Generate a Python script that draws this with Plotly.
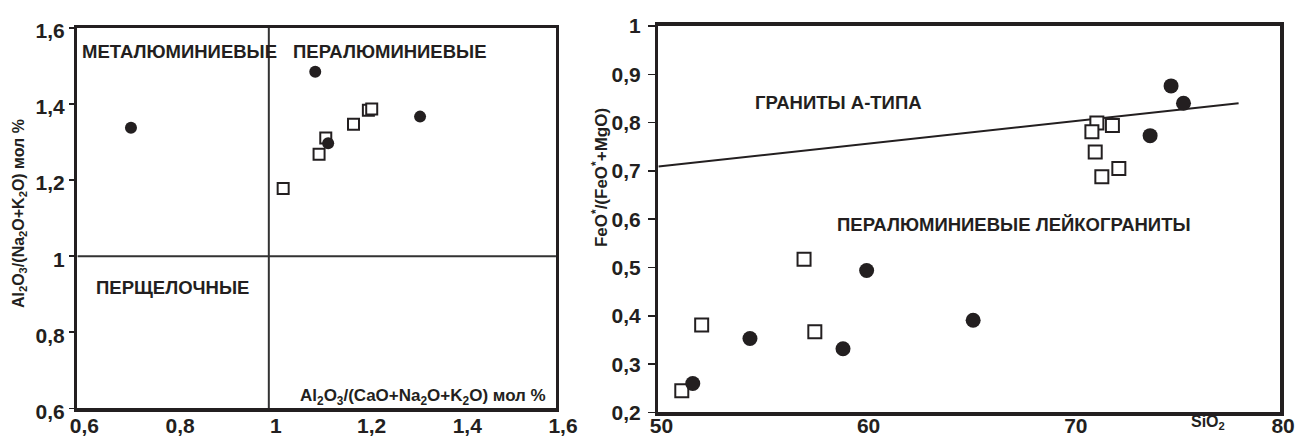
import plotly.graph_objects as go

# ---------------- data: left diagram ----------------
left_circle_x = [0.712, 1.097, 1.124, 1.316]
left_circle_y = [1.338, 1.485, 1.297, 1.367]
left_square_x = [1.030, 1.105, 1.119, 1.177, 1.208, 1.215]
left_square_y = [1.178, 1.268, 1.311, 1.347, 1.384, 1.387]
left_vline_x = [1.0, 1.0]
left_vline_y = [0.6, 1.6]
left_hline_x = [0.6, 1.6]
left_hline_y = [1.0, 1.0]
left_ticks = [0.6, 0.8, 1.0, 1.2, 1.4, 1.6]
left_ticktext = ["0,6", "0,8", "1", "1,2", "1,4", "1,6"]

# ---------------- data: right diagram ----------------
right_circle_x = [51.66, 54.42, 58.91, 60.05, 65.19, 73.73, 74.74, 75.34]
right_circle_y = [0.260, 0.353, 0.332, 0.494, 0.391, 0.773, 0.876, 0.840]
right_square_x = [51.13, 52.09, 57.03, 57.55, 71.16, 70.92, 71.91, 71.08, 71.40, 72.22]
right_square_y = [0.245, 0.381, 0.517, 0.367, 0.799, 0.781, 0.794, 0.739, 0.688, 0.705]
right_line_x = [50, 78]
right_line_y = [0.709, 0.840]
right_xticks = [50, 60, 70, 80]
right_xticktext = ["50", "60", "70", "80"]
right_yticks = [0.2, 0.3, 0.4, 0.5, 0.6, 0.7, 0.8, 0.9, 1.0]
right_yticktext = ["0,2", "0,3", "0,4", "0,5", "0,6", "0,7", "0,8", "0,9", "1"]

INK = "#231f20"
FONT = "Liberation Sans, Arial, sans-serif"

fig = go.Figure()

# left boundary lines
fig.add_trace(go.Scatter(x=left_vline_x, y=left_vline_y, mode="lines",
                         line=dict(color="#333333", width=2), xaxis="x", yaxis="y",
                         hoverinfo="skip"))
fig.add_trace(go.Scatter(x=left_hline_x, y=left_hline_y, mode="lines",
                         line=dict(color="#333333", width=2), xaxis="x", yaxis="y",
                         hoverinfo="skip"))
fig.add_trace(go.Scatter(x=left_square_x, y=left_square_y, mode="markers",
                         marker=dict(symbol="square", size=11, color="white",
                                     line=dict(color=INK, width=2)),
                         xaxis="x", yaxis="y"))
fig.add_trace(go.Scatter(x=left_circle_x, y=left_circle_y, mode="markers",
                         marker=dict(symbol="circle", size=12, color=INK,
                                     line=dict(width=0)),
                         xaxis="x", yaxis="y"))

# right
fig.add_trace(go.Scatter(x=right_line_x, y=right_line_y, mode="lines",
                         line=dict(color=INK, width=2), xaxis="x2", yaxis="y2",
                         hoverinfo="skip"))
fig.add_trace(go.Scatter(x=right_square_x, y=right_square_y, mode="markers",
                         marker=dict(symbol="square", size=13, color="white",
                                     line=dict(color=INK, width=2)),
                         xaxis="x2", yaxis="y2"))
fig.add_trace(go.Scatter(x=right_circle_x, y=right_circle_y, mode="markers",
                         marker=dict(symbol="circle", size=15, color=INK,
                                     line=dict(width=0)),
                         xaxis="x2", yaxis="y2"))

tickfont = dict(family=FONT, size=21, color=INK, weight="bold")
axis_common = dict(showgrid=False, zeroline=False, showline=True, mirror=True,
                   linecolor=INK, linewidth=3.5, tickfont=tickfont, fixedrange=True,
                   automargin=False)

fig.update_layout(
    template="none",
    width=1296, height=439,
    margin=dict(l=0, r=0, t=0, b=0, autoexpand=False),
    paper_bgcolor="white", plot_bgcolor="white",
    showlegend=False,
    font=dict(family=FONT, color=INK),
    xaxis=dict(domain=[0.0597, 0.4290], range=[0.6, 1.6], tickvals=left_ticks,
               ticktext=left_ticktext, ticks="", ticklen=0, ticklabelstandoff=-4,
               ticklabelshift=7, anchor="y", **axis_common),
    yaxis=dict(domain=[0.0699, 0.9362], range=[0.6, 1.6], tickvals=left_ticks,
               ticktext=left_ticktext, ticks="outside", ticklen=5, tickwidth=1.5,
               tickcolor=INK, ticklabelstandoff=0, ticklabelshift=3,
               anchor="x", **axis_common),
    xaxis2=dict(domain=[0.5080, 0.9877], range=[50, 80], tickvals=right_xticks,
                ticktext=right_xticktext, ticks="", ticklen=0, ticklabelstandoff=-8,
                ticklabelshift=3, anchor="y2", **axis_common),
    yaxis2=dict(domain=[0.0604, 0.9408], range=[0.2, 1.0], tickvals=right_yticks,
                ticktext=right_yticktext, ticks="outside", ticklen=7, tickwidth=1.5,
                tickcolor=INK, ticklabelstandoff=3, anchor="x2", **axis_common),
)

lab = dict(family=FONT, size=18.5, color=INK, weight="bold")
ann = [
    dict(text="МЕТАЛЮМИНИЕВЫЕ", x=0.6056, y=1.539, xref="x", yref="y",
         xanchor="left", yanchor="middle", showarrow=False, font=lab),
    dict(text="ПЕРАЛЮМИНИЕВЫЕ", x=1.046, y=1.537, xref="x", yref="y",
         xanchor="left", yanchor="middle", showarrow=False, font=lab),
    dict(text="ПЕРЩЕЛОЧНЫЕ", x=0.634, y=0.918, xref="x", yref="y",
         xanchor="left", yanchor="middle", showarrow=False, font=lab),
    dict(text="Al<sub>2</sub>O<sub>3</sub>/(CaO+Na<sub>2</sub>O+K<sub>2</sub>O) мол %",
         x=1.583, y=0.629, xref="x", yref="y", xanchor="right", yanchor="middle",
         showarrow=False, font=dict(family=FONT, size=17, color=INK, weight="bold")),
    dict(text="Al<sub>2</sub>O<sub>3</sub>/(Na<sub>2</sub>O+K<sub>2</sub>O) мол %",
         x=0.0147, y=0.5125, xref="paper", yref="paper", textangle=-90,
         xanchor="center", yanchor="middle", showarrow=False,
         font=dict(family=FONT, size=16, color=INK, weight="bold")),
    dict(text="ГРАНИТЫ А-ТИПА", x=54.55, y=0.8426, xref="x2", yref="y2",
         xanchor="left", yanchor="middle", showarrow=False, font=lab),
    dict(text="ПЕРАЛЮМИНИЕВЫЕ ЛЕЙКОГРАНИТЫ", x=58.51, y=0.590, xref="x2", yref="y2",
         xanchor="left", yanchor="middle", showarrow=False, font=lab),
    dict(text="SiO<sub>2</sub>", x=76.53, y=0.0387, xref="x2", yref="paper",
         xanchor="center", yanchor="middle", showarrow=False,
         font=dict(family=FONT, size=16, color=INK, weight="bold")),
    dict(text="FeO<sup>*</sup>/(FeO<sup>*</sup>+MgO)", x=0.463, y=0.5945,
         xref="paper", yref="paper", textangle=-90, xanchor="center",
         yanchor="middle", showarrow=False,
         font=dict(family=FONT, size=17, color=INK, weight="bold")),
]
fig.update_layout(annotations=ann)

fig.write_html(
    "out.html",
    config={"displayModeBar": False, "staticPlot": True},
    post_script="document.body.style.margin='0';document.body.style.overflow='hidden';",
)
